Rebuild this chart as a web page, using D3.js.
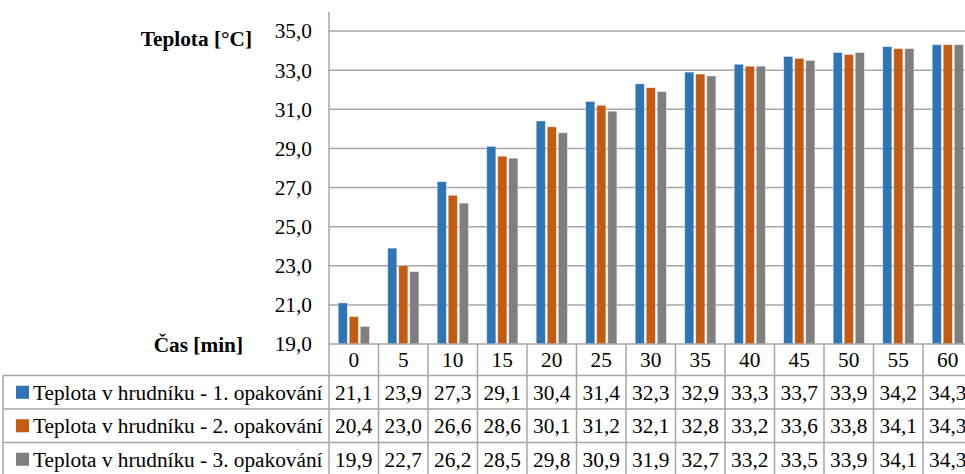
<!DOCTYPE html>
<html>
<head>
<meta charset="utf-8">
<script src="https://cdn.jsdelivr.net/npm/d3@7"></script>
<style>
  body { margin: 0; background: #fff; }
</style>
</head>
<body>
<div id="chart"></div>
<script>
var categories = ["0", "5", "10", "15", "20", "25", "30", "35", "40", "45", "50", "55", "60"];
var seriesNames = [
  "Teplota v hrudníku - 1. opakování",
  "Teplota v hrudníku - 2. opakování",
  "Teplota v hrudníku - 3. opakování"
];
var rep1 = [21.1, 23.9, 27.3, 29.1, 30.4, 31.4, 32.3, 32.9, 33.3, 33.7, 33.9, 34.2, 34.3];
var rep2 = [20.4, 23.0, 26.6, 28.6, 30.1, 31.2, 32.1, 32.8, 33.2, 33.6, 33.8, 34.1, 34.3];
var rep3 = [19.9, 22.7, 26.2, 28.5, 29.8, 30.9, 31.9, 32.7, 33.2, 33.5, 33.9, 34.1, 34.3];
var yTicks = [19, 21, 23, 25, 27, 29, 31, 33, 35];
var colors = ["#2E75B6", "#C55A11", "#7F7F7F"];

var config = {
  width: 965,
  height: 474,
  plotLeft: 329,
  colWidth: 49.5,
  plotTop: 12,
  yTop: 31,
  yBottom: 344,
  rowHeight: 33.5,
  legendLeft: 3,
  fontSize: 21.3,
  font: "'Liberation Serif', 'Times New Roman', serif"
};

var series = [rep1, rep2, rep3];
var fmt = function(v) { return d3.format(".1f")(v).replace(".", ","); };
var gridColor = "#A6A6A6";

var svg = d3.select("#chart").append("svg")
    .attr("width", config.width)
    .attr("height", config.height)
    .style("display", "block")
    .style("font-family", config.font);

var x = d3.scaleBand()
    .domain(categories)
    .range([config.plotLeft, config.plotLeft + categories.length * config.colWidth])
    .padding(0);

var xInner = d3.scaleBand()
    .domain(d3.range(series.length))
    .range([9.2, 40.4])
    .paddingInner(0.17);

var y = d3.scaleLinear()
    .domain([19, 35])
    .range([config.yBottom, config.yTop]);

// gridlines
svg.append("g").selectAll("line").data(yTicks.slice(1)).enter()
  .append("line")
    .attr("x1", config.plotLeft)
    .attr("x2", config.width)
    .attr("y1", function(d) { return y(d); })
    .attr("y2", function(d) { return y(d); })
    .attr("stroke", gridColor)
    .attr("stroke-width", 1.5);

// y tick labels
svg.append("g").selectAll("text").data(yTicks).enter()
  .append("text")
    .attr("x", 312)
    .attr("y", function(d) { return y(d); })
    .attr("dy", "0.35em")
    .attr("text-anchor", "end")
    .attr("font-size", config.fontSize)
    .attr("fill", "#000")
    .text(fmt);

// bars
var groups = svg.append("g").selectAll("g").data(categories).enter()
  .append("g")
    .attr("transform", function(d) { return "translate(" + x(d) + ",0)"; });

groups.selectAll("rect")
  .data(function(d, i) { return series.map(function(s, k) { return { k: k, v: s[i] }; }); })
  .enter().append("rect")
    .attr("x", function(d) { return xInner(d.k); })
    .attr("width", xInner.bandwidth())
    .attr("y", function(d) { return y(d.v); })
    .attr("height", function(d) { return y(19) - y(d.v); })
    .attr("fill", function(d) { return colors[d.k]; })
    .attr("stroke", "#fff")
    .attr("stroke-opacity", 0.5)
    .attr("stroke-width", 0.8);

// axis titles
svg.append("text")
    .attr("x", 252).attr("y", 46)
    .attr("text-anchor", "end")
    .attr("font-size", config.fontSize)
    .attr("font-weight", "bold")
    .text("Teplota [°C]");

svg.append("text")
    .attr("x", 243).attr("y", 352)
    .attr("text-anchor", "end")
    .attr("font-size", config.fontSize)
    .attr("font-weight", "bold")
    .text("Čas [min]");

// data table
var table = svg.append("g");
var tableRight = config.plotLeft + categories.length * config.colWidth;
var headerBottom = config.yBottom + 31.5;
var rowY = function(i) { return headerBottom + i * config.rowHeight; };

table.append("line")
    .attr("x1", config.plotLeft).attr("x2", tableRight)
    .attr("y1", config.yBottom).attr("y2", config.yBottom)
    .attr("stroke", gridColor).attr("stroke-width", 1.5);

table.selectAll("line.row").data(d3.range(series.length + 1)).enter()
  .append("line")
    .attr("class", "row")
    .attr("x1", config.legendLeft).attr("x2", tableRight)
    .attr("y1", function(i) { return rowY(i); })
    .attr("y2", function(i) { return rowY(i); })
    .attr("stroke", gridColor).attr("stroke-width", 1.5);

table.selectAll("line.col").data(categories.concat(["end"])).enter()
  .append("line")
    .attr("class", "col")
    .attr("x1", function(d, i) { return config.plotLeft + i * config.colWidth; })
    .attr("x2", function(d, i) { return config.plotLeft + i * config.colWidth; })
    .attr("y1", config.yBottom)
    .attr("y2", config.height)
    .attr("stroke", gridColor).attr("stroke-width", 1.5);

table.append("line")
    .attr("x1", config.legendLeft).attr("x2", config.legendLeft)
    .attr("y1", headerBottom).attr("y2", config.height)
    .attr("stroke", gridColor).attr("stroke-width", 1.5);

// y axis line
svg.append("line")
    .attr("x1", config.plotLeft).attr("x2", config.plotLeft)
    .attr("y1", config.plotTop).attr("y2", config.yBottom)
    .attr("stroke", gridColor).attr("stroke-width", 1.5);

// header labels
table.selectAll("text.cat").data(categories).enter()
  .append("text")
    .attr("class", "cat")
    .attr("x", function(d) { return x(d) + x.bandwidth() / 2; })
    .attr("y", (config.yBottom + headerBottom) / 2)
    .attr("dy", "0.35em")
    .attr("text-anchor", "middle")
    .attr("font-size", config.fontSize)
    .text(function(d) { return d; });

var rows = table.selectAll("g.srow").data(series).enter()
  .append("g")
    .attr("class", "srow")
    .attr("transform", function(d, i) { return "translate(0," + (rowY(i) + config.rowHeight / 2) + ")"; });

rows.append("rect")
    .attr("x", 16).attr("y", -6.5)
    .attr("width", 13).attr("height", 13)
    .attr("fill", function(d, i) { return colors[i]; });

rows.append("text")
    .attr("x", 33)
    .attr("dy", "0.35em")
    .attr("font-size", config.fontSize)
    .text(function(d, i) { return seriesNames[i]; });

rows.selectAll("text.val")
  .data(function(d) { return d; })
  .enter().append("text")
    .attr("class", "val")
    .attr("x", function(d, i) { return x(categories[i]) + x.bandwidth() / 2; })
    .attr("dy", "0.35em")
    .attr("text-anchor", "middle")
    .attr("font-size", config.fontSize)
    .text(fmt);
</script>
</body>
</html>
